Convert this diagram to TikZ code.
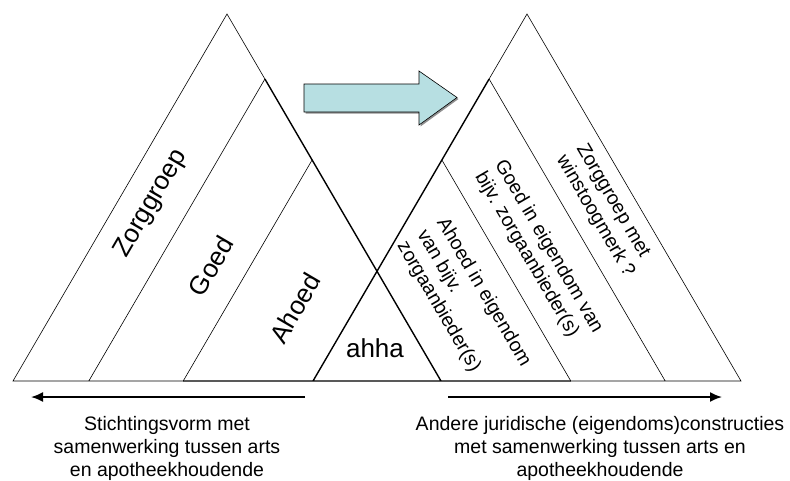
\documentclass[tikz,border=0pt]{standalone}
\usepackage{fontspec}
\setmainfont{Liberation Sans}
\usepackage{tikz}
\usetikzlibrary{arrows, arrows.meta, positioning, shadows}
\usepackage{xcolor}
\definecolor{arrowcyan}{RGB}{183,223,226}

\begin{document}
\begin{tikzpicture}[x=1pt,y=-1pt,line join=miter]
    \tikzstyle{band}=[line width=0.6pt]
    \tikzstyle{edgeline}=[line width=1.4pt]
    \tikzstyle{bigtext}=[font=\fontsize{26}{31}\selectfont,inner sep=0pt]
    \tikzstyle{sidetext}=[font=\fontsize{19.5}{23}\selectfont,inner sep=0pt,align=left,rotate=-59.7,anchor=north west]
    \tikzstyle{bottomtext}=[font=\fontsize{19.5}{23}\selectfont,inner sep=0pt,align=center,anchor=north]
    \tikzstyle{spread}=[line width=1.8pt,-{Latex[length=12pt,width=10pt]}]

    \useasboundingbox (0,0) rectangle (790,480);

    % left triangle
    \coordinate (LL) at (13,381);
    \coordinate (LT) at (227,14);
    \coordinate (LR) at (441,381);
    \coordinate (L1) at (264.9,79);
    \coordinate (L2) at (312.1,160);
    \coordinate (LB1) at (88.8,381);
    \coordinate (LB2) at (183.2,381);
    % right triangle
    \coordinate (RL) at (313,381);
    \coordinate (RT) at (527,14);
    \coordinate (RR) at (741,381);
    \coordinate (R1) at (489.1,79);
    \coordinate (R2) at (441.9,160);
    \coordinate (RB1) at (665.2,381);
    \coordinate (RB2) at (570.8,381);

    \draw[band] (LB2) -- (LL) -- (LT) -- (L1) (LB1) -- (L1) (LB2) -- (L2);
    \draw[band] (RB2) -- (RR) -- (RT) -- (R1) (RB1) -- (R1) (RB2) -- (R2);
    \draw[edgeline] (L1) -- (LR) (R1) -- (RL) (LB2) -- (RB2);

    % big arrow
    \draw[band,fill=arrowcyan,drop shadow={shadow xshift=1.5pt,shadow yshift=-1.5pt,fill=black!55,opacity=0.8}]
        (304,84) -- (419,84) -- (419,71) -- (457,97.5) -- (419,125) -- (419,112) -- (304,112) -- cycle;

    \node[bigtext,rotate=59.7] (zorggroep) at (151,204) {Zorggroep};
    \node[bigtext,rotate=59.7] (goed) at (211,266) {Goed};
    \node[bigtext,rotate=59.7] (ahoed) at (295,308) {Ahoed};
    \node[bigtext,anchor=base] (ahha) at (375,357) {ahha};

    \node[sidetext] (winst) at (588,141) {Zorggroep met\\winstoogmerk ?};
    \node[sidetext] (goedeig) at (507,157) {Goed in eigendom van\\bijv. zorgaanbieder(s)};
    \node[sidetext] (ahoedeig) at (449,215) {Ahoed in eigendom\\van bijv.\\zorgaanbieder(s)};

    \coordinate (leftfrom) at (305,397);
    \coordinate (leftto) at (31,397);
    \coordinate (rightfrom) at (448,397);
    \coordinate (rightto) at (722,397);
    \draw[spread] (leftfrom) -- (leftto);
    \draw[spread] (rightfrom) -- (rightto);

    \node[bottomtext] (stichting) at (167,416) {Stichtingsvorm met\\samenwerking tussen arts\\en apotheekhoudende};
    \node[bottomtext] (andere) at (600,416) {Andere juridische (eigendoms)constructies\\met samenwerking tussen arts en\\apotheekhoudende};
\end{tikzpicture}
\end{document}
